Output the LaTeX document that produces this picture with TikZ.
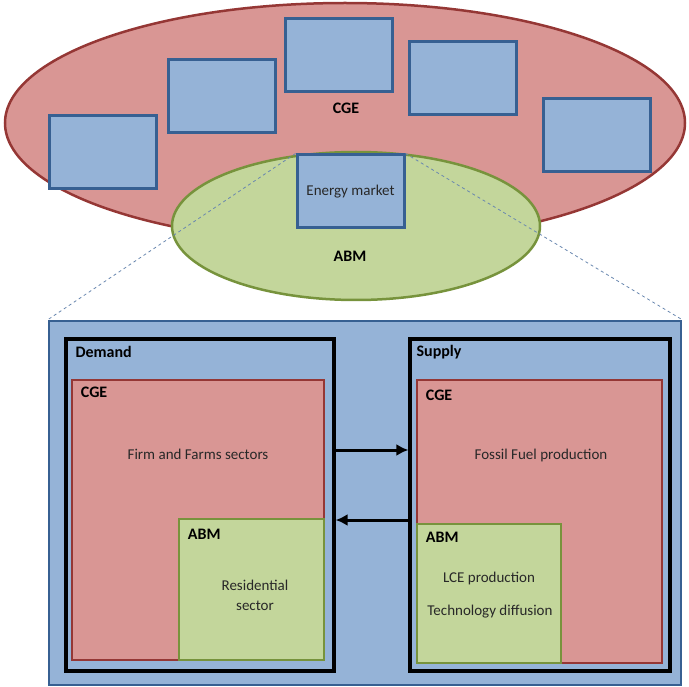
\documentclass[tikz,border=0pt]{standalone}
\usepackage{fontspec}
\setmainfont{Carlito}
\usetikzlibrary{shapes.geometric,arrows.meta}
\definecolor{cgefill}{RGB}{217,150,148}
\definecolor{cgeline}{RGB}{149,55,53}
\definecolor{abmfill}{RGB}{195,214,155}
\definecolor{abmline}{RGB}{119,147,60}
\definecolor{secfill}{RGB}{149,179,215}
\definecolor{secline}{RGB}{55,96,146}
\definecolor{zoomline}{RGB}{105,135,175}
\definecolor{bodytext}{RGB}{40,40,40}
\begin{document}
\begin{tikzpicture}[x=1pt,y=-1pt]
  \tikzstyle{sector}=[draw=secline,fill=secfill,line width=3pt,minimum width=107pt,minimum height=73pt,inner sep=0pt]
  \tikzstyle{cgebox}=[draw=cgeline,fill=cgefill,line width=2.5pt,inner sep=0pt]
  \tikzstyle{abmbox}=[draw=abmline,fill=abmfill,line width=2.5pt,inner sep=0pt]
  \tikzstyle{side}=[draw=black,line width=3.2pt,inner sep=0pt]
  \tikzstyle{tag}=[inner sep=0pt,font=\fontsize{16}{19}\selectfont\bfseries]
  \tikzstyle{txt}=[inner sep=0pt,text=bodytext,font=\fontsize{15}{20}\selectfont,align=center]
  \tikzstyle{flow}=[-{Latex[length=12pt,width=12pt]},line width=3pt]
  \useasboundingbox (0,0) rectangle (689,687);

  % whole economy
  \node[ellipse,cgebox,minimum width=680pt,minimum height=240pt] (E-cge) at (345,123) {};
  \node[sector] (S-1) at (103,152.5) {};
  \node[sector] (S-2) at (222,96) {};
  \node[sector] (S-3) at (339,55) {};
  \node[sector] (S-4) at (462.5,78.5) {};
  \node[sector] (S-5) at (597,135.5) {};
  \node[tag] (E-cge-tag) at (346,108) {CGE};

  \node[ellipse,abmbox,minimum width=368pt,minimum height=148pt] (E-abm) at (356,226) {};
  \node[sector,txt] (S-em) at (350.5,191.5) {Energy market};
  \node[tag] (E-abm-tag) at (350,256) {ABM};

  % zoomed energy market
  \node[draw=secline,fill=secfill,line width=2.5pt,minimum width=632pt,minimum height=364pt] (M) at (365,503) {};
  \draw[zoomline,dashed,line width=0.8pt] (S-em.north west) -- (M.north west);
  \draw[zoomline,dashed,line width=0.8pt] (S-em.north east) -- (M.north east);

  \node[side,minimum width=268pt,minimum height=332pt] (D) at (200,505) {};
  \node[tag,anchor=west] at ([xshift=11pt,yshift=-15pt]D.north west) {Demand};
  \node[cgebox,minimum width=252pt,minimum height=280pt] (D-cge) at (198,520) {};
  \node[tag,anchor=west] at ([xshift=10pt,yshift=-14pt]D-cge.north west) {CGE};
  \node[txt] at (198,454) {Firm and Farms sectors};
  \node[abmbox,minimum width=145pt,minimum height=141pt] (D-abm) at (251.5,589.5) {};
  \node[tag,anchor=west] at ([xshift=10pt,yshift=-17pt]D-abm.north west) {ABM};
  \node[txt] at (255,595) {Residential\\sector};

  \node[side,minimum width=260pt,minimum height=332pt] (P) at (540,505) {};
  \node[tag,anchor=west] at ([xshift=8pt,yshift=-15pt]P.north west) {Supply};
  \node[cgebox,minimum width=245pt,minimum height=283pt] (P-cge) at (539.5,521.5) {};
  \node[tag,anchor=west] at ([xshift=10pt,yshift=-17pt]P-cge.north west) {CGE};
  \node[txt] at (541,456) {Fossil Fuel production};
  \node[abmbox,minimum width=144pt,minimum height=139pt] (P-abm) at (489,593.5) {};
  \node[tag,anchor=west] at ([xshift=10pt,yshift=-15pt]P-abm.north west) {ABM};
  \node[txt] at (489,579) {LCE production};
  \node[txt] at (490,612) {Technology diffusion};

  \draw[flow] ([yshift=55pt]D.east) -- ([yshift=55pt]P.west);
  \draw[flow] ([yshift=-15pt]P.west) -- ([yshift=-15pt]D.east);
\end{tikzpicture}
\end{document}
